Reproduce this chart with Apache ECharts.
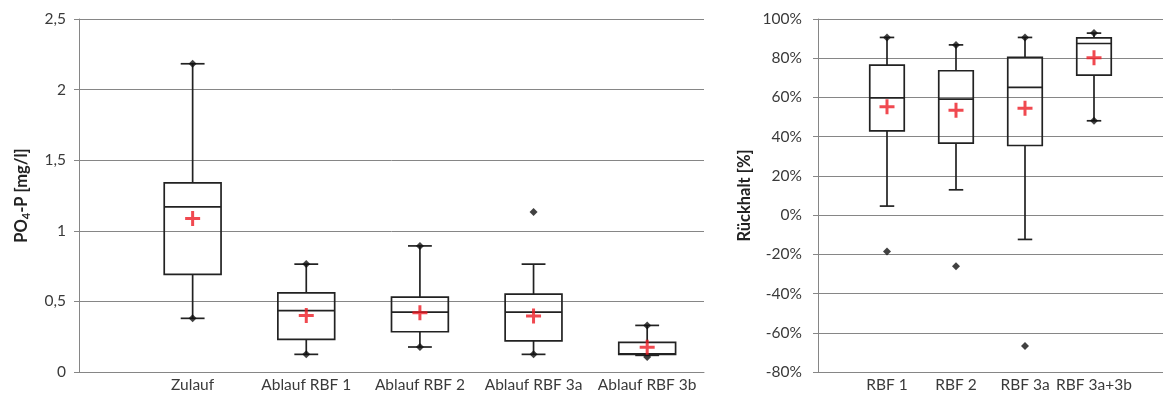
<!DOCTYPE html>
<html>
<head>
<meta charset="utf-8">
<script src="https://cdn.jsdelivr.net/npm/echarts@6/dist/echarts.min.js"></script>
<style>
  html, body { margin: 0; padding: 0; background: #fff; }
  #chart { width: 1164px; height: 394px; }
</style>
</head>
<body>
<div id="chart"></div>
<script>
// PO4-P concentration per sampling point (mg/l)
const concCategories = ['Zulauf', 'Ablauf RBF 1', 'Ablauf RBF 2', 'Ablauf RBF 3a', 'Ablauf RBF 3b'];
const concWhiskerLow  = [0.38, 0.125, 0.177, 0.125, 0.118];
const concQ1          = [0.691, 0.231, 0.285, 0.221, 0.125];
const concMedian      = [1.169, 0.434, 0.424, 0.424, 0.128];
const concQ3          = [1.339, 0.561, 0.530, 0.552, 0.210];
const concWhiskerHigh = [2.183, 0.764, 0.893, 0.764, 0.330];
const concMean        = [1.087, 0.401, 0.419, 0.396, 0.175];
const concMin         = [0.38, 0.125, 0.177, 0.125, 0.106];
const concMax         = [2.183, 0.764, 0.893, 1.134, 0.330];

// Retention per filter (%)
const retCategories = ['RBF 1', 'RBF 2', 'RBF 3a', 'RBF 3a+3b'];
const retWhiskerLow  = [4.6, 12.9, -12.4, 48.1];
const retQ1          = [43.0, 36.7, 35.5, 71.4];
const retMedian      = [59.8, 59.1, 65.1, 87.5];
const retQ3          = [76.5, 73.6, 80.4, 90.4];
const retWhiskerHigh = [90.6, 86.8, 90.6, 92.8];
const retMean        = [55.2, 53.5, 54.5, 80.2];
const retMin         = [-18.5, -26.1, -66.8, 48.1];
const retMax         = [90.6, 86.8, 90.6, 92.8];

const FONT = 'Lato';
const LABEL_COLOR = '#3a3a3a';
const GRID_COLOR = '#868686';
const BOX_COLOR = '#222';
const MEAN_COLOR = '#ec1c24';

function boxRows(lo, q1, med, q3, hi) {
  return lo.map((v, i) => [i + 1, v, q1[i], med[i], q3[i], hi[i]]);
}
function points(values) {
  return values.map((v, i) => [i + 1, v]);
}

// Box, median and whiskers drawn through the axis scales
function renderBox(params, api) {
  const x = api.value(0);
  const lo = api.coord([x, api.value(1)]);
  const q1 = api.coord([x, api.value(2)]);
  const md = api.coord([x, api.value(3)]);
  const q3 = api.coord([x, api.value(4)]);
  const hi = api.coord([x, api.value(5)]);
  const cx = md[0];
  const halfBox = api.size([0.5, 0])[0] / 2;
  const halfCap = api.size([0.21, 0])[0] / 2;
  const st = { stroke: BOX_COLOR, lineWidth: 1.7, fill: null };
  return {
    type: 'group',
    children: [
      { type: 'line', shape: { x1: cx, y1: q3[1], x2: cx, y2: hi[1] }, style: st },
      { type: 'line', shape: { x1: cx, y1: q1[1], x2: cx, y2: lo[1] }, style: st },
      { type: 'line', shape: { x1: cx - halfCap, y1: hi[1], x2: cx + halfCap, y2: hi[1] }, style: st },
      { type: 'line', shape: { x1: cx - halfCap, y1: lo[1], x2: cx + halfCap, y2: lo[1] }, style: st },
      { type: 'rect', shape: { x: cx - halfBox, y: q3[1], width: halfBox * 2, height: q1[1] - q3[1] }, style: st },
      { type: 'line', shape: { x1: cx - halfBox, y1: md[1], x2: cx + halfBox, y2: md[1] }, style: st }
    ]
  };
}

const crossPath = 'path://M0,6h15v3h-15z M6,0h3v15h-3z';

function valueXAxis(gridIndex, max, names) {
  return {
    gridIndex, type: 'value', min: 0, max, interval: 1,
    axisLine: { show: true, lineStyle: { color: GRID_COLOR, width: 1 } },
    axisTick: { show: false },
    splitLine: { show: false },
    axisLabel: {
      margin: 5, color: LABEL_COLOR, fontSize: 15.5, fontFamily: FONT,
      showMinLabel: true, showMaxLabel: true,
      formatter: v => (Number.isInteger(v) && names[v - 1]) ? names[v - 1] : ''
    }
  };
}

function seriesFor(idx, lo, q1, med, q3, hi, mean, mins, maxs) {
  return [
    { type: 'custom', xAxisIndex: idx, yAxisIndex: idx, renderItem: renderBox,
      data: boxRows(lo, q1, med, q3, hi), silent: true, z: 2 },
    { type: 'scatter', xAxisIndex: idx, yAxisIndex: idx, symbol: 'diamond', symbolSize: [8, 8],
      itemStyle: { color: '#111' }, data: points(mins).concat(points(maxs)), z: 4 },
    { type: 'scatter', xAxisIndex: idx, yAxisIndex: idx, symbol: crossPath, symbolSize: [15, 15],
      itemStyle: { color: MEAN_COLOR }, data: points(mean), z: 5 }
  ];
}

const chart = echarts.init(document.getElementById('chart'), null, { renderer: 'canvas' });
chart.setOption({
  animation: false,
  backgroundColor: '#fff',
  textStyle: { fontFamily: FONT },
  grid: [
    { left: 79, top: 19, width: 625, height: 353, containLabel: false, outerBoundsMode: 'none' },
    { left: 818, top: 19, width: 345, height: 353, containLabel: false, outerBoundsMode: 'none' }
  ],
  xAxis: [
    valueXAxis(0, 5.5, concCategories),
    valueXAxis(1, 5, retCategories)
  ],
  yAxis: [
    {
      gridIndex: 0, type: 'value', min: 0, max: 2.5, interval: 0.5,
      axisLine: { show: true, lineStyle: { color: GRID_COLOR } },
      axisTick: { show: true, length: 5, lineStyle: { color: GRID_COLOR } },
      splitLine: { show: true, lineStyle: { color: GRID_COLOR, width: 1 } },
      axisLabel: { margin: 13, color: LABEL_COLOR, fontSize: 15.5, fontFamily: FONT,
        formatter: v => String(v).replace('.', ',') },
      name: '{a|PO}{s|4}{a|-P [mg/l]}',
      nameLocation: 'middle', nameRotate: 90, nameGap: 46,
      nameTextStyle: {
        rich: {
          a: { fontSize: 16.5, fontWeight: 'bold', color: '#222', fontFamily: FONT, lineHeight: 22 },
          s: { fontSize: 11, fontWeight: 'bold', color: '#222', fontFamily: FONT, lineHeight: 22, padding: [9, 0, 0, 0] }
        }
      }
    },
    {
      gridIndex: 1, type: 'value', min: -80, max: 100, interval: 20,
      axisLine: { show: true, lineStyle: { color: GRID_COLOR } },
      axisTick: { show: true, length: 5, lineStyle: { color: GRID_COLOR } },
      splitLine: { show: true, lineStyle: { color: GRID_COLOR, width: 1 } },
      axisLabel: { margin: 16, color: LABEL_COLOR, fontSize: 15.5, fontFamily: FONT,
        formatter: v => v + '%' },
      name: 'Rückhalt [%]',
      nameLocation: 'middle', nameRotate: 90, nameGap: 65,
      nameTextStyle: { fontSize: 16.5, fontWeight: 'bold', color: '#222', fontFamily: FONT }
    }
  ],
  series: [].concat(
    seriesFor(0, concWhiskerLow, concQ1, concMedian, concQ3, concWhiskerHigh, concMean, concMin, concMax),
    seriesFor(1, retWhiskerLow, retQ1, retMedian, retQ3, retWhiskerHigh, retMean, retMin, retMax)
  )
});
</script>
</body>
</html>
